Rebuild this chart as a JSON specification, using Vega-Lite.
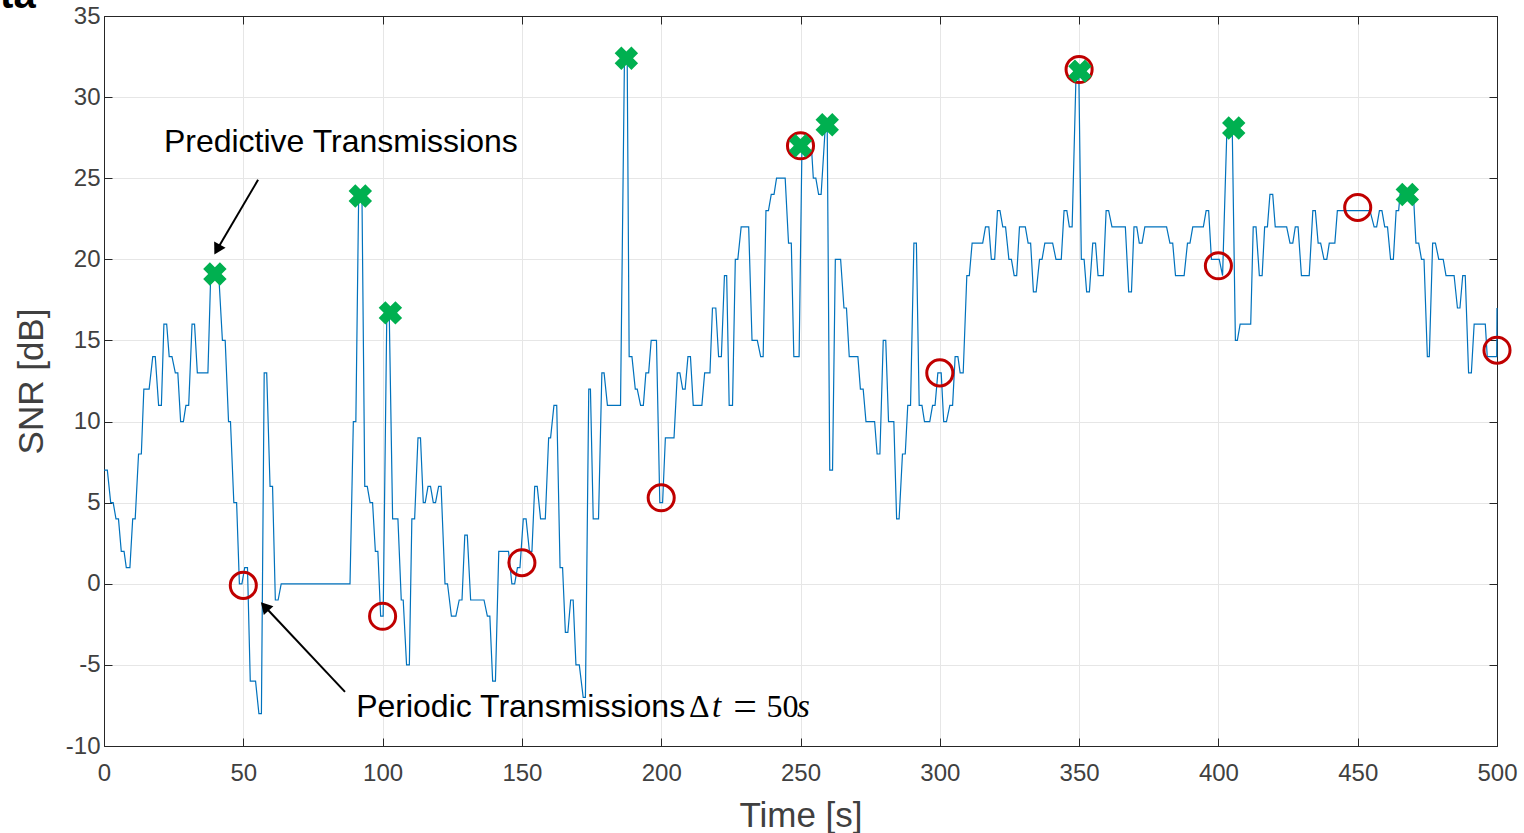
{
"$schema": "https://vega.github.io/schema/vega-lite/v6.json",
"width": 1393, "height": 730,
"autosize": {"type": "none"},
"padding": {"left": 104, "top": 16, "right": 27, "bottom": 87},
"background": "white",
"config": {"font": "Liberation Sans", "view": {"stroke": "#262626", "strokeWidth": 1},
  "axis": {"gridColor": "#e6e6e6", "gridWidth": 1, "domainColor": "#262626", "tickColor": "#262626", "labelColor": "#404040", "titleColor": "#404040", "labelFont": "Liberation Sans", "titleFont": "Liberation Sans", "labelFontSize": 24, "titleFontSize": 35, "titleFontWeight": "normal", "tickSize": -8, "labelFlush": false}},
"datasets": {
"snr": [{"t":0,"v":7},{"t":1.2,"v":7},{"t":2.4,"v":5},{"t":3.3,"v":5},{"t":4.3,"v":4},{"t":5.2,"v":4},{"t":6.2,"v":2},{"t":7.2,"v":2},{"t":8,"v":1},{"t":9.3,"v":1},{"t":10.3,"v":4},{"t":11.2,"v":4},{"t":12.4,"v":8},{"t":13.4,"v":8},{"t":14.3,"v":12},{"t":16.2,"v":12},{"t":17.5,"v":14},{"t":18.4,"v":14},{"t":19.6,"v":11},{"t":20.6,"v":11},{"t":21.5,"v":16},{"t":22.5,"v":16},{"t":23.4,"v":14},{"t":24.4,"v":14},{"t":25.6,"v":13},{"t":26.5,"v":13},{"t":27.5,"v":10},{"t":28.5,"v":10},{"t":29.4,"v":11},{"t":30.4,"v":11},{"t":31.6,"v":16},{"t":32.5,"v":16},{"t":33.5,"v":13},{"t":37.3,"v":13},{"t":38.3,"v":19},{"t":41.2,"v":19},{"t":42.5,"v":15},{"t":43.5,"v":15},{"t":44.7,"v":10},{"t":45.4,"v":10},{"t":46.6,"v":5},{"t":47.6,"v":5},{"t":48.6,"v":0},{"t":49.5,"v":0},{"t":50.5,"v":1},{"t":51.5,"v":1},{"t":52.5,"v":-6},{"t":54.4,"v":-6},{"t":55.6,"v":-8},{"t":56.5,"v":-8},{"t":57.5,"v":13},{"t":58.4,"v":13},{"t":59.6,"v":6},{"t":60.5,"v":6},
{"t":61.5,"v":-1},{"t":62.5,"v":-1},{"t":63.6,"v":0},{"t":88.3,"v":0},{"t":89.5,"v":10},{"t":90.4,"v":10},{"t":91.4,"v":23.8},{"t":92.6,"v":23.8},{"t":93.6,"v":6},{"t":94.5,"v":6},{"t":95.5,"v":5},{"t":96.4,"v":5},{"t":97.4,"v":2},{"t":98.3,"v":2},{"t":99.3,"v":-2},{"t":100.2,"v":-2},{"t":101.5,"v":16.5},{"t":102.4,"v":16.5},{"t":103.6,"v":4},{"t":105.5,"v":4},{"t":106.7,"v":-1},{"t":107.4,"v":-1},{"t":108.6,"v":-5},{"t":109.6,"v":-5},{"t":110.5,"v":4},{"t":111.5,"v":4},{"t":112.7,"v":9},{"t":113.6,"v":9},{"t":114.6,"v":5},{"t":115.3,"v":5},{"t":116.3,"v":6},{"t":117.2,"v":6},{"t":118.2,"v":5},{"t":119,"v":5},{"t":120.1,"v":6},{"t":121,"v":6},{"t":122.4,"v":0},{"t":123.3,"v":0},
{"t":124.7,"v":-2},{"t":126.3,"v":-2},{"t":127.5,"v":-1},{"t":128.5,"v":-1},{"t":129.5,"v":3},{"t":130.4,"v":3},{"t":131.6,"v":-1},{"t":136.4,"v":-1},{"t":137.6,"v":-2},{"t":138.5,"v":-2},{"t":139.5,"v":-6},{"t":140.5,"v":-6},{"t":141.7,"v":2},{"t":145.2,"v":2},{"t":146.4,"v":0},{"t":147.4,"v":0},{"t":148.4,"v":1},{"t":149.3,"v":1},{"t":150.5,"v":4},{"t":151.5,"v":4},{"t":152.7,"v":2},{"t":153.6,"v":2},{"t":154.6,"v":6},{"t":155.5,"v":6},{"t":156.7,"v":4},{"t":158.4,"v":4},{"t":159.6,"v":9},{"t":160.3,"v":9},{"t":161.5,"v":11},{"t":162.5,"v":11},{"t":163.7,"v":1},{"t":164.6,"v":1},{"t":165.6,"v":-3},{"t":166.5,"v":-3},{"t":167.5,"v":-1},{"t":168.4,"v":-1},{"t":169.4,"v":-5},{"t":170.6,"v":-5},{"t":172,"v":-7},{"t":172.8,"v":-7},{"t":174,"v":12},{"t":174.6,"v":12},{"t":175.6,"v":4},{"t":177.5,"v":4},{"t":178.7,"v":13},{"t":179.5,"v":13},{"t":180.7,"v":11},
{"t":185.4,"v":11},{"t":186.8,"v":32.2},{"t":187.8,"v":32.2},{"t":188.5,"v":14},{"t":189.5,"v":14},{"t":190.7,"v":12},{"t":191.4,"v":12},{"t":192.6,"v":11},{"t":193.6,"v":11},{"t":194.5,"v":13},{"t":195.5,"v":13},{"t":196.4,"v":15},{"t":198.3,"v":15},{"t":199.5,"v":5},{"t":200.5,"v":5},{"t":201.5,"v":9},{"t":204.6,"v":9},{"t":205.8,"v":13},{"t":206.7,"v":13},{"t":207.7,"v":12},{"t":208.6,"v":12},{"t":209.6,"v":14},{"t":210.5,"v":14},{"t":211.5,"v":11},{"t":214.6,"v":11},{"t":215.6,"v":13},{"t":217.5,"v":13},{"t":218.4,"v":17},{"t":219.6,"v":17},{"t":220.6,"v":14},{"t":221.6,"v":14},{"t":222.7,"v":19},{"t":223.5,"v":19},{"t":224.4,"v":11},{"t":225.6,"v":11},{"t":226.6,"v":20},{"t":227.5,"v":20},{"t":228.7,"v":22},{"t":231.4,"v":22},{"t":232.6,"v":15},{"t":234.5,"v":15},{"t":235.7,"v":14},{"t":236.6,"v":14},{"t":237.6,"v":23},{"t":238.5,"v":23},{"t":239.5,"v":24},{"t":240.5,"v":24},{"t":241.4,"v":25},{"t":244.5,"v":25},
{"t":245.7,"v":21},{"t":246.7,"v":21},{"t":247.6,"v":14},{"t":249.5,"v":14},{"t":250.5,"v":26.7},{"t":254,"v":26.7},{"t":254.6,"v":25},{"t":255.5,"v":25},{"t":256.5,"v":24},{"t":257.4,"v":24},{"t":258.8,"v":27.9},{"t":259.6,"v":27.9},{"t":260.5,"v":7},{"t":261.5,"v":7},{"t":262.5,"v":20},{"t":264.4,"v":20},{"t":265.6,"v":17},{"t":266.5,"v":17},{"t":267.5,"v":14},{"t":270.6,"v":14},{"t":271.5,"v":12},{"t":272.5,"v":12},{"t":273.5,"v":10},{"t":276.6,"v":10},{"t":277.5,"v":8},{"t":278.5,"v":8},{"t":279.7,"v":15},{"t":280.6,"v":15},{"t":281.6,"v":10},{"t":283.5,"v":10},{"t":284.5,"v":4},{"t":285.4,"v":4},{"t":286.6,"v":8},{"t":287.6,"v":8},{"t":288.5,"v":11},{"t":289.5,"v":11},{"t":290.7,"v":21},{"t":291.6,"v":21},{"t":292.6,"v":11},{"t":293.6,"v":11},{"t":294.5,"v":10},{"t":296.4,"v":10},{"t":297.4,"v":11},{"t":298.3,"v":11},{"t":299.3,"v":13},{"t":300.5,"v":13},{"t":301.4,"v":10},{"t":302.4,"v":10},{"t":303.6,"v":11},{"t":304.6,"v":11},{"t":305.5,"v":14},{"t":306.5,"v":14},{"t":307.3,"v":13},{"t":308.4,"v":13},
{"t":309.7,"v":19},{"t":310.6,"v":19},{"t":311.6,"v":21},{"t":315.4,"v":21},{"t":316.4,"v":22},{"t":317.6,"v":22},{"t":318.5,"v":20},{"t":319.7,"v":20},{"t":320.7,"v":23},{"t":321.6,"v":23},{"t":322.6,"v":22},{"t":323.6,"v":22},{"t":324.8,"v":20},{"t":325.7,"v":20},{"t":326.7,"v":19},{"t":327.6,"v":19},{"t":328.6,"v":22},{"t":330.7,"v":22},{"t":331.7,"v":21},{"t":332.6,"v":21},{"t":333.6,"v":18},{"t":334.6,"v":18},{"t":335.8,"v":20},{"t":336.7,"v":20},{"t":337.7,"v":21},{"t":340.5,"v":21},{"t":341.7,"v":20},{"t":343.6,"v":20},{"t":344.6,"v":23},{"t":345.6,"v":23},{"t":346.5,"v":22},{"t":347.5,"v":22},{"t":348.9,"v":31.4},{"t":349.9,"v":31.4},{"t":350.8,"v":20},{"t":351.8,"v":20},{"t":352.7,"v":18},{"t":353.7,"v":18},{"t":354.9,"v":21},{"t":355.9,"v":21},{"t":356.8,"v":19},{"t":358.7,"v":19},{"t":359.7,"v":23},{"t":360.6,"v":23},{"t":361.8,"v":22},{"t":366.6,"v":22},
{"t":367.8,"v":18},{"t":368.8,"v":18},{"t":369.7,"v":22},{"t":370.7,"v":22},{"t":371.6,"v":21},{"t":372.6,"v":21},{"t":373.6,"v":22},{"t":381.4,"v":22},{"t":382.6,"v":21},{"t":383.6,"v":21},{"t":384.6,"v":19},{"t":387.7,"v":19},{"t":388.9,"v":21},{"t":389.8,"v":21},{"t":390.8,"v":22},{"t":394.6,"v":22},{"t":395.6,"v":23},{"t":396.5,"v":23},{"t":397.5,"v":20},{"t":400.3,"v":20},{"t":401.5,"v":19},{"t":403,"v":27.7},{"t":405,"v":27.7},{"t":406.1,"v":15},{"t":406.8,"v":15},{"t":407.8,"v":16},{"t":411.6,"v":16},{"t":412.5,"v":22},{"t":413.5,"v":22},{"t":414.7,"v":19},{"t":415.7,"v":19},{"t":416.6,"v":22},{"t":417.6,"v":22},{"t":418.5,"v":24},{"t":419.5,"v":24},{"t":420.4,"v":22},{"t":424.5,"v":22},{"t":425.7,"v":21},{"t":426.7,"v":21},{"t":427.6,"v":22},{"t":428.6,"v":22},{"t":429.8,"v":19},{"t":432.6,"v":19},
{"t":433.9,"v":23},{"t":434.8,"v":23},{"t":435.8,"v":21},{"t":436.7,"v":21},{"t":437.9,"v":20},{"t":438.9,"v":20},{"t":439.8,"v":21},{"t":441.8,"v":21},{"t":442.7,"v":23},{"t":454.4,"v":23},{"t":455.9,"v":22},{"t":456.8,"v":22},{"t":457.8,"v":23},{"t":458.7,"v":23},{"t":459.7,"v":22},{"t":460.7,"v":22},{"t":461.8,"v":20},{"t":462.8,"v":20},{"t":463.8,"v":23},{"t":464.7,"v":23},{"t":465.2,"v":24},{"t":470,"v":24},{"t":470.9,"v":21},{"t":471.9,"v":21},{"t":472.9,"v":20},{"t":473.8,"v":20},{"t":475,"v":14},{"t":475.7,"v":14},{"t":476.9,"v":21},{"t":477.9,"v":21},{"t":479.1,"v":20},{"t":480.7,"v":20},{"t":481.7,"v":19},{"t":484.6,"v":19},{"t":485.8,"v":17},{"t":486.7,"v":17},{"t":487.7,"v":19},{"t":488.6,"v":19},{"t":489.8,"v":13},{"t":490.8,"v":13},{"t":491.8,"v":16},{"t":495.8,"v":16},{"t":496.5,"v":14},{"t":499.9,"v":14},{"t":500,"v":17}],
"periodic": [{"t":50,"v":-0.1},{"t":100,"v":-2.0},{"t":150,"v":1.3},{"t":200,"v":5.3},{"t":250,"v":27.0},{"t":300,"v":13.0},{"t":350,"v":31.7},{"t":400,"v":19.6},{"t":450,"v":23.2},{"t":500,"v":14.4}],
"predictive": [{"t":39.8,"v":19.1},{"t":92,"v":23.9},{"t":102.8,"v":16.7},{"t":187.5,"v":32.4},{"t":250,"v":27.0},{"t":259.6,"v":28.3},{"t":350.3,"v":31.6},{"t":405.5,"v":28.1},{"t":467.8,"v":24.0}],
"arrows": [{"id":"pred","t":55.3,"v":24.9,"t2":40.6,"v2":20.6},{"id":"per","t":86.5,"v":-6.66,"t2":57.7,"v2":-1.4}]
},
"layer": [
{"data": {"name": "snr"}, "mark": {"type": "line", "color": "#0072BD", "strokeWidth": 1.2},
 "encoding": {
  "x": {"field": "t", "type": "quantitative", "scale": {"domain": [0, 500], "nice": false}, "axis": {"values": [0,50,100,150,200,250,300,350,400,450,500], "title": "Time [s]", "labelPadding": 23, "titlePadding": 13, "grid": true}},
  "y": {"field": "v", "type": "quantitative", "scale": {"domain": [-10, 35], "nice": false}, "axis": {"values": [-10,-5,0,5,10,15,20,25,30,35], "labelExpr": "datum.value < 0 ? '-' + abs(datum.value) : datum.label", "title": "SNR [dB]", "labelPadding": 12, "titlePadding": 16, "grid": true}}}},
{"data": {"name": "periodic"}, "mark": {"type": "point", "shape": "circle", "filled": false, "stroke": "#C00000", "strokeWidth": 3, "size": 680, "opacity": 1},
 "encoding": {"x": {"field": "t", "type": "quantitative", "axis": null}, "y": {"field": "v", "type": "quantitative", "axis": null}}},
{"data": {"name": "predictive"}, "mark": {"type": "point", "shape": "cross", "angle": 45, "filled": true, "color": "#00B050", "size": 560, "opacity": 1},
 "encoding": {"x": {"field": "t", "type": "quantitative", "axis": {"orient": "top", "values": [0,50,100,150,200,250,300,350,400,450,500], "labels": false, "title": null, "grid": false}}, "y": {"field": "v", "type": "quantitative", "axis": {"orient": "right", "values": [-10,-5,0,5,10,15,20,25,30,35], "labels": false, "title": null, "grid": false}}}},
{"data": {"name": "arrows"}, "mark": {"type": "rule", "color": "black", "strokeWidth": 2},
 "encoding": {"x": {"field": "t", "type": "quantitative", "axis": null}, "y": {"field": "v", "type": "quantitative", "axis": null}, "x2": {"field": "t2"}, "y2": {"field": "v2"}}},
{"data": {"name": "arrows"}, "transform": [{"filter": "datum.id == 'pred'"}], "mark": {"type": "point", "shape": "triangle-up", "filled": true, "color": "black", "size": 170, "angle": 209, "opacity": 1},
 "encoding": {"x": {"field": "t2", "type": "quantitative", "axis": null}, "y": {"field": "v2", "type": "quantitative", "axis": null}}},
{"data": {"name": "arrows"}, "transform": [{"filter": "datum.id == 'per'"}], "mark": {"type": "point", "shape": "triangle-up", "filled": true, "color": "black", "size": 170, "angle": 317, "opacity": 1},
 "encoding": {"x": {"field": "t2", "type": "quantitative", "axis": null}, "y": {"field": "v2", "type": "quantitative", "axis": null}}},
{"data": {"values": [{"t": 21.5, "v": 27.25, "label": "Predictive Transmissions"}, {"t": 90.5, "v": -7.6, "label": "Periodic Transmissions"}]},
 "mark": {"type": "text", "align": "left", "baseline": "middle", "fontSize": 32, "font": "Liberation Sans", "color": "black"},
 "encoding": {"x": {"field": "t", "type": "quantitative", "axis": null}, "y": {"field": "v", "type": "quantitative", "axis": null}, "text": {"field": "label"}}},
{"data": {"values": [{"t": 210.0, "v": -7.6, "label": "Δ"}, {"t": 237.8, "v": -7.6, "label": "50"}]},
 "mark": {"type": "text", "align": "left", "baseline": "middle", "fontSize": 32, "font": "Liberation Serif", "color": "black"},
 "encoding": {"x": {"field": "t", "type": "quantitative", "axis": null}, "y": {"field": "v", "type": "quantitative", "axis": null}, "text": {"field": "label"}}},
{"data": {"values": [{"t": 230.1, "v": -7.6, "label": "="}]},
 "mark": {"type": "text", "align": "center", "baseline": "middle", "fontSize": 42, "font": "Liberation Serif", "color": "black"},
 "encoding": {"x": {"field": "t", "type": "quantitative", "axis": null}, "y": {"field": "v", "type": "quantitative", "axis": null}, "text": {"field": "label"}}},
{"data": {"values": [{"t": 218.2, "v": -7.6, "label": "t"}, {"t": 248.7, "v": -7.6, "label": "s"}]},
 "mark": {"type": "text", "align": "left", "baseline": "middle", "fontSize": 33, "font": "Liberation Serif", "fontStyle": "italic", "color": "black"},
 "encoding": {"x": {"field": "t", "type": "quantitative", "axis": null}, "y": {"field": "v", "type": "quantitative", "axis": null}, "text": {"field": "label"}}},
{"data": {"values": [{"t": -37.3, "v": 35.5, "label": "ta"}]},
 "mark": {"type": "text", "align": "left", "baseline": "alphabetic", "fontSize": 40, "fontWeight": "bold", "font": "Liberation Sans", "color": "black", "clip": false},
 "encoding": {"x": {"field": "t", "type": "quantitative", "axis": null}, "y": {"field": "v", "type": "quantitative", "axis": null}, "text": {"field": "label"}}}
],
"resolve": {"axis": {"x": "independent", "y": "independent"}}
}
